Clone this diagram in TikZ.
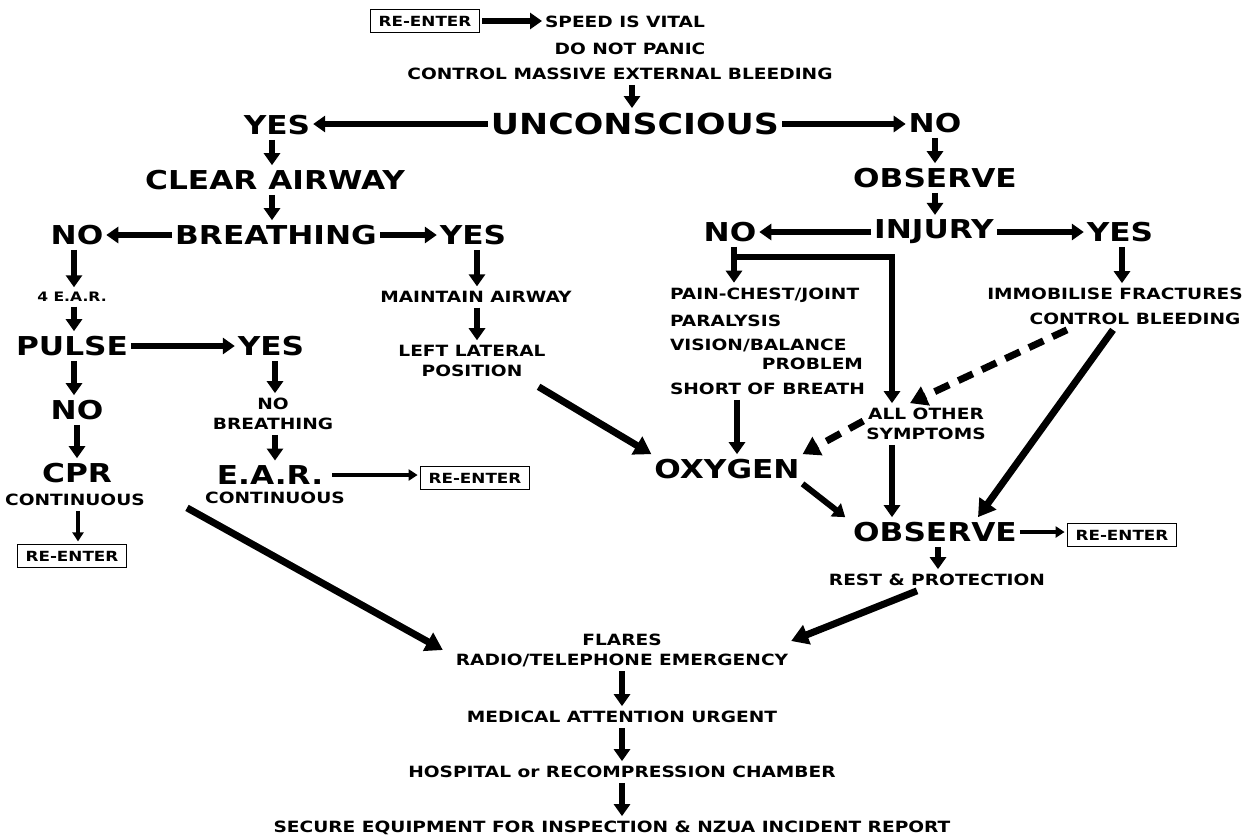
\documentclass[tikz,border=0pt]{standalone}
\usepackage{fontspec}
\setmainfont{DejaVu Sans}[FakeStretch=1.2]
\usetikzlibrary{arrows.meta}
\newcommand\fBig{\fontsize{29}{31}\selectfont\bfseries}
\newcommand\fMed{\fontsize{26}{28}\selectfont\bfseries}
\newcommand\fSm{\fontsize{15.5}{20}\selectfont\bfseries}
\newcommand\fTiny{\fontsize{13}{16}\selectfont\bfseries}
\newcommand\fBox{\fontsize{14}{16}\selectfont\bfseries}
\tikzset{
  txt/.style={inner sep=0pt, outer xsep=3pt, outer ysep=5pt, align=center},
  big/.style={txt, font=\fBig},
  med/.style={txt, font=\fMed},
  sm/.style={txt, font=\fSm},
  tiny/.style={txt, font=\fTiny},
  box/.style={draw, line width=1.6pt, inner xsep=8pt, inner ysep=6.5pt, outer sep=3pt, font=\fBox},
  arr/.style={line width=6pt, -{Triangle[length=12pt,width=16pt]}},
  thin/.style={line width=3.5pt, -{Triangle[length=9pt,width=11pt]}},
  diag/.style={line width=7pt, -{Triangle[length=17pt,width=20pt]}},
  dash7/.style={line width=7pt, dash pattern=on 16pt off 10pt, -{Triangle[length=17pt,width=20pt]}}
}
\begin{document}
\begin{tikzpicture}[x=1pt, y=-1pt]
\useasboundingbox (0,0) rectangle (1254,839);
% top
\node[box] (re0) at (425,21) {RE-ENTER};
\node[sm, anchor=west] (speed) at (542,22) {SPEED IS VITAL};
\node[sm] (panic) at (630,49) {DO NOT PANIC};
\node[sm] (bleed) at (620,74) {CONTROL MASSIVE EXTERNAL BLEEDING};
\node[big] (unc) at (635,124) {UNCONSCIOUS};
\node[med] (yesA) at (277,125) {YES};
\node[med] (noA) at (935,123) {NO};
% unconscious branch
\node[med] (clear) at (275,180) {CLEAR AIRWAY};
\node[med] (breath) at (276,235) {BREATHING};
\node[med] (noB) at (77,235) {NO};
\node[med] (yesB) at (473,235) {YES};
\node[tiny] (ear4) at (72,297) {4 E.A.R.};
\node[med] (pulse) at (72,346) {PULSE};
\node[med] (yesC) at (271,346) {YES};
\node[med] (noC) at (77,410) {NO};
\node[med] (cpr) at (77,473) {CPR};
\node[sm] (cprc) at (75,500) {CONTINUOUS};
\node[box] (re1) at (72,556) {RE-ENTER};
\node[sm] (nob) at (273,414) {NO\\BREATHING};
\node[med] (ear) at (270,475) {E.A.R.};
\node[sm] (earc) at (275,498) {CONTINUOUS};
\node[box] (re2) at (475,478) {RE-ENTER};
\node[sm] (maint) at (476,297) {MAINTAIN AIRWAY};
\node[sm] (llp) at (472,361) {LEFT LATERAL\\POSITION};
% conscious branch
\node[med] (obs1) at (935,178) {OBSERVE};
\node[med] (inj) at (934,232) {INJURY};
\node[med] (noD) at (730,232) {NO};
\node[med] (yesD) at (1120,232) {YES};
\node[sm, anchor=west] (pain) at (667,295) {PAIN-CHEST/JOINT};
\node[sm, anchor=west] (para) at (667,321) {PARALYSIS};
\node[sm, anchor=west] (vis) at (667,345) {VISION/BALANCE};
\node[sm, anchor=east] (prob) at (866,364) {PROBLEM};
\node[sm, anchor=west] (short) at (667,389) {SHORT OF BREATH};
\node[sm] (other) at (926,424) {ALL OTHER\\SYMPTOMS};
\node[sm] (immob) at (1115,294) {IMMOBILISE FRACTURES};
\node[sm] (ctrl) at (1135,319) {CONTROL BLEEDING};
\node[med] (oxy) at (727,469) {OXYGEN};
\node[med] (obs2) at (935,532) {OBSERVE};
\node[box] (re3) at (1122,535) {RE-ENTER};
\node[sm] (rest) at (937,580) {REST \& PROTECTION};
% final chain
\node[sm] (flares) at (622,650) {FLARES\\RADIO/TELEPHONE EMERGENCY};
\node[sm] (medic) at (622,717) {MEDICAL ATTENTION URGENT};
\node[sm] (hosp) at (622,772) {HOSPITAL or RECOMPRESSION CHAMBER};
\node[sm] (secure) at (612,828) {SECURE EQUIPMENT FOR INSPECTION \& NZUA INCIDENT REPORT};
\coordinate (elbow) at (892,257);

% connectors
\draw[arr] (re0.east) -- (re0.east -| speed.west);
\draw[arr] ([xshift=12pt]bleed.south) -- ([xshift=-3pt]unc.north);
\draw[arr] (unc.west) -- (unc.west -| yesA.east);
\draw[arr] (unc.east) -- (unc.east -| noA.west);
\draw[arr] ([xshift=-5pt]yesA.south) -- ([xshift=-5pt]yesA.south |- clear.north);
\draw[arr] ([xshift=-3pt]clear.south) -- ([xshift=-3pt]clear.south |- breath.north);
\draw[arr] (breath.west) -- (breath.west -| noB.east);
\draw[arr] (breath.east) -- (breath.east -| yesB.west);
\draw[arr] ([xshift=-3pt]noB.south) -- ([xshift=-3pt]noB.south |- ear4.north);
\draw[arr] ([xshift=2pt]ear4.south) -- ([xshift=2pt]ear4.south |- pulse.north);
\draw[arr] ([xshift=2pt]pulse.south) -- ([xshift=2pt]pulse.south |- noC.north);
\draw[arr] (noC.south) -- (noC.south |- cpr.north);
\draw[thin] ([xshift=3pt]cprc.south) -- ([xshift=3pt]cprc.south |- re1.north);
\draw[arr] (pulse.east) -- (pulse.east -| yesC.west);
\draw[arr] ([xshift=4pt]yesC.south) -- ([xshift=4pt]yesC.south |- nob.north);
\draw[arr] ([xshift=2pt]nob.south) -- ([xshift=5pt]ear.north);
\draw[thin] ([xshift=6pt]ear.east) -- (ear.east -| re2.west);
\draw[arr] ([xshift=4pt]yesB.south) -- ([xshift=4pt]yesB.south |- maint.north);
\draw[arr] ([xshift=1pt]maint.south) -- ([xshift=1pt]maint.south |- llp.north);
\draw[diag] ([xshift=-10pt,yshift=-5pt]llp.south east) -- (oxy.north west);
\draw[diag] ([xshift=112pt,yshift=3pt]cprc.south) -- ([xshift=-10pt]flares.west);
\draw[arr] (noA.south) -- (noA.south |- obs1.north);
\draw[arr] (obs1.south) -- (obs1.south |- inj.north);
\draw[arr] (inj.west) -- (inj.west -| noD.east);
\draw[arr] (inj.east) -- (inj.east -| yesD.west);
\draw[arr] ([xshift=4pt]noD.south) -- ([xshift=4pt]noD.south |- pain.north);
\draw[arr] ([xshift=4pt]noD.south) |- (elbow) -- (elbow |- other.north);
\draw[arr] ([xshift=70pt]short.south west) -- ([xshift=70pt]short.south west |- oxy.north);
\draw[arr] ([xshift=-34pt]other.south) -- ([xshift=-34pt]other.south |- obs2.north);
\draw[dash7] ([xshift=-68pt]ctrl.south) -- ([xshift=-16pt]other.north);
\draw[dash7] ([yshift=3pt]other.west) -- (oxy.north east);
\draw[arr] ([xshift=2pt]yesD.south) -- ([xshift=2pt]yesD.south |- immob.north);
\draw[diag] ([xshift=-22pt]ctrl.south) -- ([xshift=43pt]obs2.north);
\draw[arr] (oxy.south east) -- ([xshift=-5pt]obs2.north west);
\draw[thin] (obs2.east) -- (obs2.east -| re3.west);
\draw[arr] ([xshift=3pt]obs2.south) -- ([xshift=3pt]obs2.south |- rest.north);
\draw[diag] ([xshift=-20pt]rest.south) -- ([yshift=9pt]flares.east);
\draw[arr] (flares.south) -- (flares.south |- medic.north);
\draw[arr] (medic.south) -- (medic.south |- hosp.north);
\draw[arr] (hosp.south) -- (hosp.south |- secure.north);
\end{tikzpicture}
\end{document}
